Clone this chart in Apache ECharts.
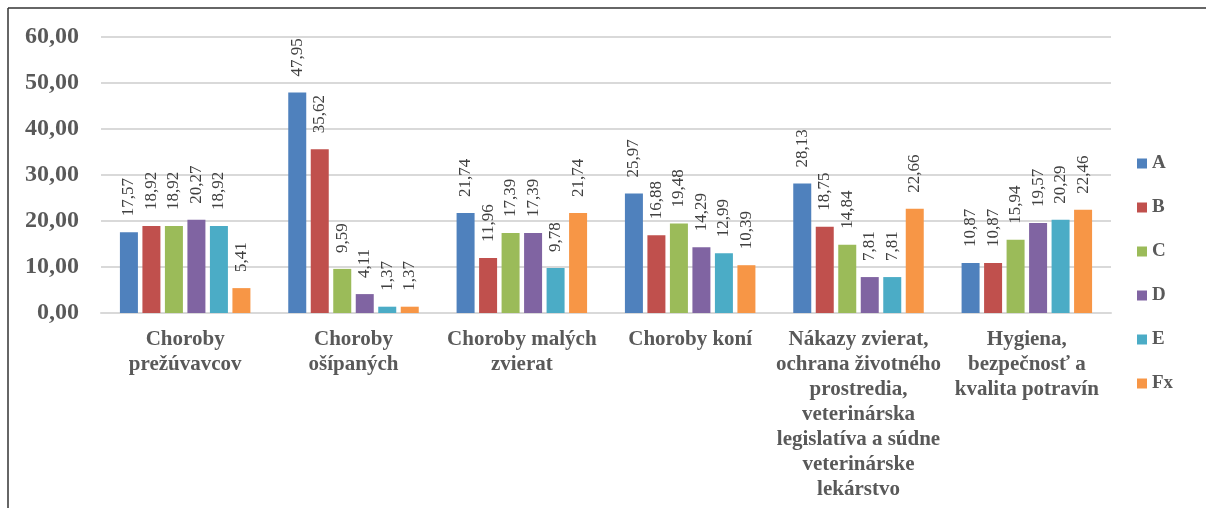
<!DOCTYPE html>
<html>
<head>
	<meta charset="utf-8" />
	<script type="text/javascript" src="https://cdn.jsdelivr.net/npm/echarts@6/dist/echarts.min.js"></script>
	<style type="text/css">
		body{ margin: 0; background: #fff; }
		#container{ width: 1206px; height: 508px; }
	</style>
</head>
<body>
<div id="container"></div>
<script type="text/javascript">
	// kategórie (osi x)
	var categories = [
		'Choroby\nprežúvavcov',
		'Choroby\nošípaných',
		'Choroby malých\nzvierat',
		'Choroby koní',
		'Nákazy zvierat,\nochrana životného\nprostredia,\nveterinárska\nlegislatíva a súdne\nveterinárske\nlekárstvo',
		'Hygiena,\nbezpečnosť a\nkvalita potravín'
	];
	var seriesNames = ['A', 'B', 'C', 'D', 'E', 'Fx'];
	var valuesA  = [17.57, 47.95, 21.74, 25.97, 28.13, 10.87];
	var valuesB  = [18.92, 35.62, 11.96, 16.88, 18.75, 10.87];
	var valuesC  = [18.92,  9.59, 17.39, 19.48, 14.84, 15.94];
	var valuesD  = [20.27,  4.11, 17.39, 14.29,  7.81, 19.57];
	var valuesE  = [18.92,  1.37,  9.78, 12.99,  7.81, 20.29];
	var valuesFx = [ 5.41,  1.37, 21.74, 10.39, 22.66, 22.46];
	var yTicks = [0, 10, 20, 30, 40, 50, 60];

	var allValues = [valuesA, valuesB, valuesC, valuesD, valuesE, valuesFx];
	var colors = ['#4f81bd', '#c0504d', '#9bbb59', '#8064a2', '#4bacc6', '#f79646'];
	var serif = '"Liberation Serif", "Times New Roman", serif';

	function fmt(v){
		return v.toFixed(2).replace('.', ',');
	}

	var chart = echarts.init(document.getElementById('container'));

	var series = seriesNames.map(function(name, i){
		return {
			name: name,
			type: 'bar',
			data: allValues[i],
			barWidth: 18,
			barGap: '25%',
			itemStyle: { color: colors[i] },
			label: {
				show: true,
				position: 'top',
				rotate: 90,
				align: 'left',
				verticalAlign: 'middle',
				distance: 16,
				fontFamily: serif,
				fontSize: 17,
				color: '#404040',
				formatter: function(p){ return fmt(p.value); }
			}
		};
	});

	var options = {
		animation: false,
		color: colors,
		grid: { left: 101, right: 95, top: 37, bottom: 195 },
		legend: {
			orient: 'vertical',
			left: 1132,
			top: 149,
			icon: 'rect',
			itemWidth: 10,
			itemHeight: 10,
			itemGap: 25,
			textStyle: { fontFamily: serif, fontSize: 19, fontWeight: 'bold', color: '#595959' },
			data: seriesNames
		},
		xAxis: {
			type: 'category',
			data: categories,
			axisLine: { lineStyle: { color: '#d9d9d9', width: 2 } },
			axisTick: { show: false },
			axisLabel: {
				interval: 0,
				margin: 14,
				fontFamily: serif,
				fontSize: 21,
				fontWeight: 'bold',
				lineHeight: 25,
				color: '#595959'
			}
		},
		yAxis: {
			type: 'value',
			min: yTicks[0],
			max: yTicks[yTicks.length - 1],
			interval: 10,
			axisLine: { show: false },
			axisTick: { show: false },
			splitLine: { lineStyle: { color: '#d9d9d9', width: 2 } },
			axisLabel: {
				margin: 22,
				fontFamily: serif,
				fontSize: 24,
				fontWeight: 'bold',
				color: '#595959',
				formatter: function(v){ return fmt(v); }
			}
		},
		graphic: [
			{ type: 'line', shape: { x1: 8, y1: 8, x2: 1206, y2: 8 }, style: { stroke: '#333', lineWidth: 1.5 } },
			{ type: 'line', shape: { x1: 8, y1: 8, x2: 8, y2: 508 }, style: { stroke: '#333', lineWidth: 1.5 } }
		],
		series: series
	};

	chart.setOption(options);
</script>
</body>
</html>
